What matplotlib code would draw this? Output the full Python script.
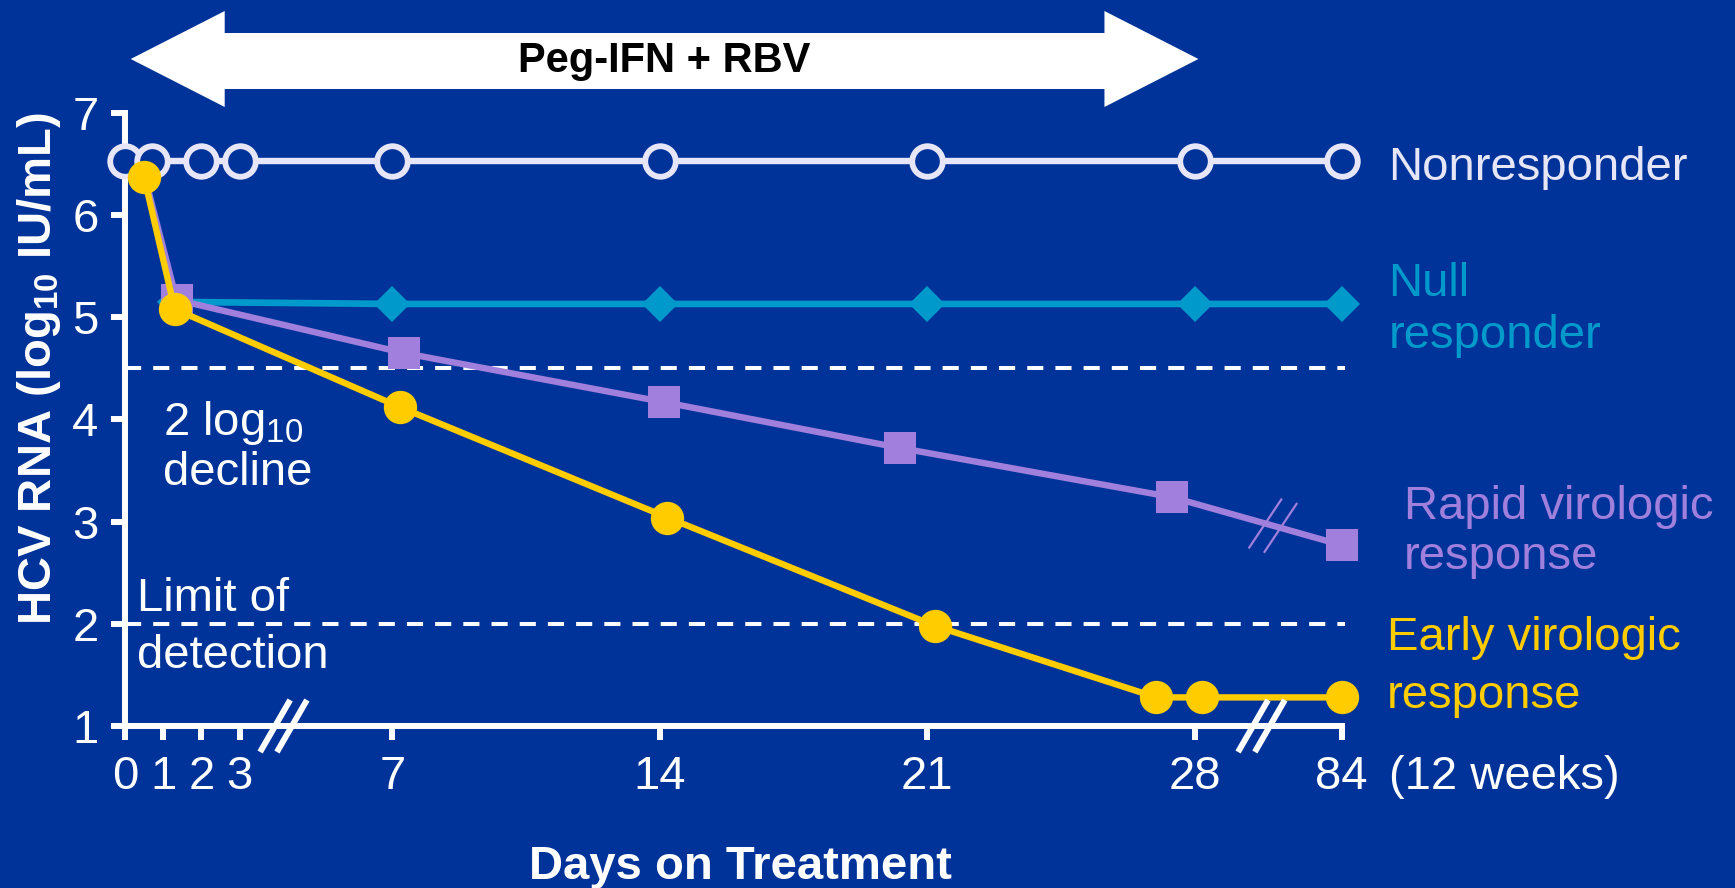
import matplotlib
matplotlib.use("Agg")
import matplotlib.pyplot as plt
from matplotlib.patches import Polygon
from matplotlib.transforms import blended_transform_factory

plt.rcParams["font.family"] = ["Liberation Sans", "DejaVu Sans"]
plt.rcParams["mathtext.fontset"] = "custom"
plt.rcParams["mathtext.rm"] = "Liberation Sans"
plt.rcParams["mathtext.bf"] = "Liberation Sans:bold"

# ---- data (days on treatment, log10 IU/mL) ----
tick_days = [0, 1, 2, 3, 7, 14, 21, 28, 84]

nonresp_days = [0, 0.7, 2, 3, 7, 14, 21, 28, 84]
nonresp_rna = [6.53, 6.53, 6.53, 6.53, 6.53, 6.53, 6.53, 6.53, 6.53]

null_days = [0.5, 1.3, 7, 14, 21, 28, 84]
null_rna = [6.4, 5.15, 5.13, 5.13, 5.13, 5.13, 5.13]

rvr_days = [0.5, 1.35, 7.3, 14.1, 20.3, 27.4, 84]
rvr_rna = [6.4, 5.17, 4.65, 4.17, 3.72, 3.24, 2.77]

evr_days = [0.5, 1.3, 7.2, 14.2, 21.2, 27.0, 28.2, 84]
evr_rna = [6.37, 5.08, 4.12, 3.04, 1.98, 1.28, 1.28, 1.28]

decline_level = 4.5
detection_limit = 2.0
treatment_span = (0.15, 28.1)

# week 12 (day 84) is drawn after an axis break, just past day 28
WEEK12 = 84
WEEK12_POS = 31.85


def xpos(days):
    return [WEEK12_POS if d == WEEK12 else d for d in days]


BG = "#003399"
WHITE = "#FFFFFF"
LAVENDER = "#E6E6F8"
TEAL = "#0099CC"
PURPLE = "#A080DC"
YELLOW = "#FFCC00"

W, H = 1735, 888
fig = plt.figure(figsize=(W / 100, H / 100), dpi=100, facecolor=BG)
ax = fig.add_axes([125 / W, (H - 726) / H, 34 * 38.2 / W, (726 - 92.4) / H])
ax.set_facecolor(BG)
ax.set_xlim(0, 34)
ax.set_ylim(1, 7.2)

# reference lines
for level in (decline_level, detection_limit):
    ax.plot([0, WEEK12_POS + 0.1], [level, level], color=WHITE, lw=2.9,
            linestyle=(0, (4, 3)), zorder=2, clip_on=False)

# series (shared baseline point only carries the yellow marker)
ax.plot(xpos(nonresp_days), nonresp_rna, color=LAVENDER, lw=4.6, marker="o",
        ms=22, mew=4.2, mfc=BG, mec=LAVENDER, zorder=3, clip_on=False)
ax.plot(xpos(null_days), null_rna, color=TEAL, lw=4.8, marker="D",
        ms=18, mew=0, markevery=slice(1, None), zorder=4, clip_on=False)
ax.plot(xpos(rvr_days), rvr_rna, color=PURPLE, lw=4.6, marker="s",
        ms=23, mew=0, markevery=slice(1, None), zorder=5, clip_on=False)
ax.plot(xpos(evr_days), evr_rna, color=YELLOW, lw=4.6, marker="o",
        ms=24, mew=0, zorder=6, clip_on=False)

# axes styling
for side in ("top", "right"):
    ax.spines[side].set_visible(False)
for side in ("left", "bottom"):
    ax.spines[side].set_color(WHITE)
    ax.spines[side].set_linewidth(4.3)
ax.spines["left"].set_bounds(1, 7)
ax.spines["bottom"].set_bounds(0, WEEK12_POS)

ax.set_yticks(range(1, 8))
ax.set_xticks(xpos(tick_days))
ax.set_xticklabels([str(d) for d in tick_days])
ax.tick_params(axis="both", colors=WHITE, labelcolor=WHITE, labelsize=34,
               width=4.3, length=10, direction="out")
ax.tick_params(axis="x", pad=11)
ax.tick_params(axis="y", pad=9)

ax.annotate("(12 weeks)", xy=(WEEK12_POS, 0), xycoords=("data", "axes fraction"),
            xytext=(34, -21), textcoords="offset points", ha="left", va="top",
            fontsize=34, color=WHITE, annotation_clip=False)

# axis break marks
px_day, px_unit = 38.2, 102.2
for bx in (3.93, 4.37, 29.53, 29.97):
    dx, dy = 15 / px_day, 26 / px_unit
    ax.plot([bx - dx, bx + dx], [1 - dy, 1 + dy], color=WHITE, lw=4.3,
            solid_capstyle="butt", zorder=7, clip_on=False)

# break on the rapid response line
x0, y0 = xpos(rvr_days)[-2], rvr_rna[-2]
x1, y1 = xpos(rvr_days)[-1], rvr_rna[-1]
for bx in (29.85, 30.25):
    by = y0 + (y1 - y0) * (bx - x0) / (x1 - x0)
    dx, dy = 16 / px_day, 24 / px_unit
    ax.plot([bx - dx, bx + dx], [by - dy, by + dy], color=PURPLE, lw=1.6,
            zorder=7, clip_on=False)

# in-plot annotations
ax.text(1.0, 3.85, r"2 log$_{10}$", color=WHITE, fontsize=34, va="baseline")
ax.text(1.0, 3.36, "decline", color=WHITE, fontsize=34, va="baseline")
ax.text(0.31, 2.125, "Limit of", color=WHITE, fontsize=34, va="baseline")
ax.text(0.31, 1.57, "detection", color=WHITE, fontsize=34, va="baseline")

# series labels
labels = [
    (33.07, 6.34, "Nonresponder", LAVENDER),
    (33.07, 5.21, "Null", TEAL),
    (33.07, 4.70, "responder", TEAL),
    (33.48, 3.03, "Rapid virologic", PURPLE),
    (33.48, 2.54, "response", PURPLE),
    (33.03, 1.74, "Early virologic", YELLOW),
    (33.03, 1.18, "response", YELLOW),
]
for lx, ly, txt, col in labels:
    ax.text(lx, ly, txt, color=col, fontsize=34, va="baseline", clip_on=False)

# axis titles
fig.text(39 / W, 1 - 368 / H, r"HCV RNA (log$_{\mathbf{10}}$ IU/mL)", rotation=90,
         ha="center", va="center", fontsize=34, fontweight="bold", color=WHITE)
fig.text(740 / W, 1 - 879 / H, "Days on Treatment", ha="center", va="baseline",
         fontsize=34, fontweight="bold", color=WHITE)

# treatment arrow
trans = blended_transform_factory(ax.transData, fig.transFigure)
a0, a1 = treatment_span
head = 2.46
tip_y, head_top, head_bot = 1 - 59 / H, 1 - 11 / H, 1 - 107 / H
shaft_top, shaft_bot = 1 - 33 / H, 1 - 89 / H
arrow = Polygon([
    (a0, tip_y), (a0 + head, head_top), (a0 + head, shaft_top),
    (a1 - head, shaft_top), (a1 - head, head_top), (a1, tip_y),
    (a1 - head, head_bot), (a1 - head, shaft_bot), (a0 + head, shaft_bot),
    (a0 + head, head_bot)], closed=True, facecolor=WHITE, edgecolor="none",
    transform=trans, clip_on=False)
ax.add_patch(arrow)
ax.text((a0 + a1) / 2, 1 - 72 / H, "Peg-IFN + RBV", transform=trans,
        ha="center", va="baseline", fontsize=30, fontweight="bold", color="black")

fig.savefig("out.png", dpi=100, facecolor=BG)
